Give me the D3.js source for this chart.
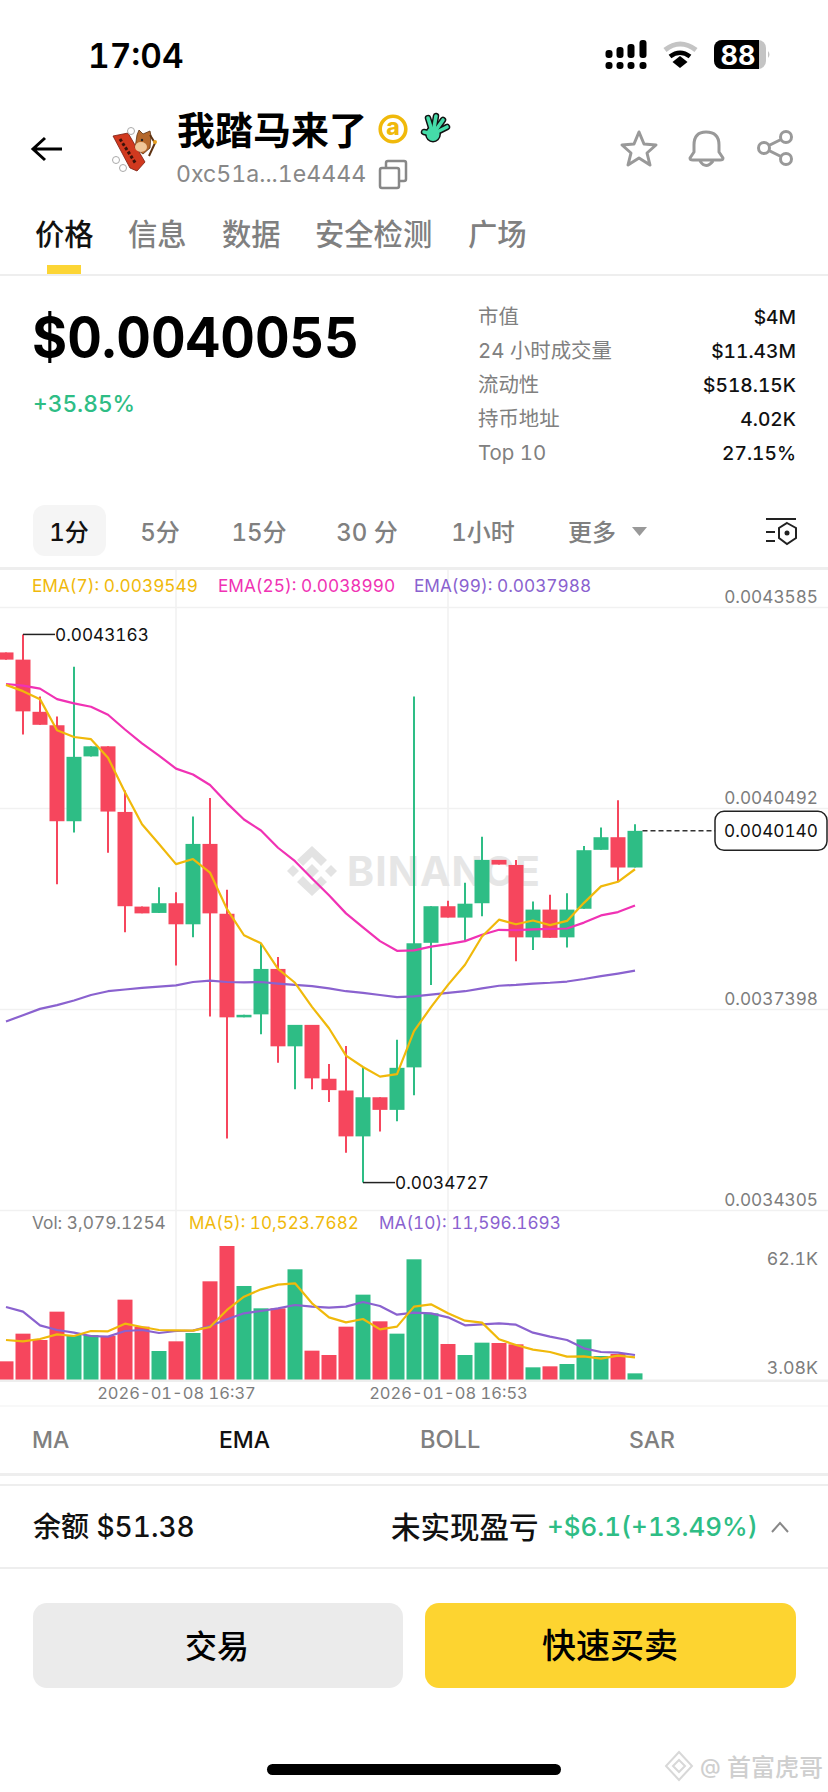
<!DOCTYPE html>
<html lang="zh">

<head>
    <meta charset="UTF-8">
    <title>我踏马来了 1分</title>
    <script src="https://d3js.org/d3.v7.min.js"></script>
</head>
<style>
    html, body {
        margin: 0;
        padding: 0;
        background: #fff;
    }
    svg {
        display: block;
    }
    text {
        font-family: Inter, "Noto Sans CJK SC", sans-serif;
        font-variant-numeric: tabular-nums;
    }
</style>

<body>
    <div id="chart"></div>
    <script>
        // one minute candles, 16:27 to 17:04
        const times = ['16:27', '16:28', '16:29', '16:30', '16:31', '16:32', '16:33', '16:34', '16:35', '16:36',
            '16:37', '16:38', '16:39', '16:40', '16:41', '16:42', '16:43', '16:44', '16:45', '16:46',
            '16:47', '16:48', '16:49', '16:50', '16:51', '16:52', '16:53', '16:54', '16:55', '16:56',
            '16:57', '16:58', '16:59', '17:00', '17:01', '17:02', '17:03', '17:04'];
        const opens = [0.0042886, 0.0042775, 0.0041972, 0.0041765, 0.0040288, 0.0041286, 0.0041441, 0.0040431, 0.0038974, 0.0038877,
            0.0039026, 0.0038702, 0.0039939, 0.0038864, 0.0037270, 0.0037316, 0.0038015, 0.0036824, 0.0037154, 0.0036325,
            0.0036144, 0.0035438, 0.0036040, 0.0035846, 0.0036500, 0.0038417, 0.0038980, 0.0038805, 0.0039026, 0.0039693,
            0.0039615, 0.0038501, 0.0038928, 0.0038501, 0.0038941, 0.0039848, 0.0040042, 0.0039576];
        const highs = [0.0042886, 0.0043163, 0.0042206, 0.0041901, 0.0042665, 0.0041441, 0.0041441, 0.0040761, 0.0038974, 0.0039272,
            0.0039194, 0.0040360, 0.0040645, 0.0039233, 0.0037309, 0.0038410, 0.0038197, 0.0037154, 0.0037154, 0.0036552,
            0.0036830, 0.0036506, 0.0036040, 0.0036927, 0.0042206, 0.0038980, 0.0039064, 0.0039343, 0.0040049, 0.0039693,
            0.0039693, 0.0039051, 0.0039155, 0.0039181, 0.0039906, 0.0040191, 0.0040612, 0.0040243];
        const lows = [0.0042775, 0.0041623, 0.0041772, 0.0039317, 0.0040114, 0.0041286, 0.0039803, 0.0038579, 0.0038870, 0.0038877,
            0.0038067, 0.0038501, 0.0037283, 0.0035405, 0.0037270, 0.0037011, 0.0036571, 0.0036163, 0.0036163, 0.0035969,
            0.0035185, 0.0034727, 0.0035515, 0.0035671, 0.0036072, 0.0037769, 0.0038805, 0.0038449, 0.0038825, 0.0039621,
            0.0038132, 0.0038307, 0.0038494, 0.0038346, 0.0038941, 0.0039848, 0.0039356, 0.0039576];
        const closes = [0.0042775, 0.0041979, 0.0041772, 0.0040288, 0.0041279, 0.0041441, 0.0040437, 0.0038980, 0.0038870, 0.0039026,
            0.0038702, 0.0039939, 0.0038870, 0.0037270, 0.0037309, 0.0038015, 0.0036824, 0.0037154, 0.0036331, 0.0036150,
            0.0035438, 0.0036040, 0.0035846, 0.0036493, 0.0038410, 0.0038980, 0.0038805, 0.0039019, 0.0039693, 0.0039621,
            0.0038501, 0.0038928, 0.0038494, 0.0038928, 0.0039842, 0.0040042, 0.0039576, 0.0040140];
        const ema7 = [0.0042387, 0.0042290, 0.0042167, 0.0041687, 0.0041584, 0.0041551, 0.0041266, 0.0040735, 0.0040243, 0.0039939,
            0.0039628, 0.0039706, 0.0039498, 0.0038935, 0.0038533, 0.0038410, 0.0038015, 0.0037802, 0.0037432, 0.0037102,
            0.0036681, 0.0036506, 0.0036357, 0.0036396, 0.0037057, 0.0037426, 0.0037769, 0.0038080, 0.0038514, 0.0038773,
            0.0038702, 0.0038760, 0.0038689, 0.0038754, 0.0039032, 0.0039285, 0.0039356, 0.0039549];
        const ema25 = [0.0042400, 0.0042374, 0.0042329, 0.0042167, 0.0042102, 0.0042050, 0.0041927, 0.0041700, 0.0041487, 0.0041299,
            0.0041098, 0.0041007, 0.0040845, 0.0040567, 0.0040314, 0.0040146, 0.0039880, 0.0039673, 0.0039408, 0.0039149,
            0.0038870, 0.0038656, 0.0038443, 0.0038294, 0.0038300, 0.0038359, 0.0038397, 0.0038443, 0.0038540, 0.0038617,
            0.0038611, 0.0038624, 0.0038630, 0.0038637, 0.0038728, 0.0038838, 0.0038890, 0.0038990];
        const ema99 = [0.0037206, 0.0037303, 0.0037400, 0.0037458, 0.0037529, 0.0037614, 0.0037672, 0.0037698, 0.0037724, 0.0037743,
            0.0037763, 0.0037814, 0.0037834, 0.0037814, 0.0037808, 0.0037814, 0.0037789, 0.0037769, 0.0037750, 0.0037717,
            0.0037672, 0.0037646, 0.0037614, 0.0037581, 0.0037594, 0.0037620, 0.0037646, 0.0037672, 0.0037717, 0.0037756,
            0.0037769, 0.0037789, 0.0037802, 0.0037821, 0.0037860, 0.0037905, 0.0037944, 0.0037988];
        const volumes = [8652, 21476, 18540, 31673, 20858, 20858, 20394, 37235, 24720, 13442,
            17922, 21785, 45732, 62100, 43569, 33218, 33218, 51294, 13596, 11588,
            24720, 39552, 27192, 21476, 55929, 30900, 16686, 11588, 17304, 17150,
            16532, 5871, 6335, 7416, 18849, 11124, 12051, 3079];
        const ma5 = [18540, 17922, 19004, 21167, 20394, 22712, 22557, 26111, 24566, 23175,
            23021, 22866, 24566, 32445, 38625, 42024, 44187, 44805, 35535, 29046,
            26729, 28274, 23484, 24720, 33990, 35072, 30900, 27501, 26574, 18849,
            16223, 14060, 12978, 10815, 10970, 9888, 11279, 10524];
        const ma10 = [33836, 31673, 25338, 23175, 21939, 20394, 20085, 22712, 23175, 21785,
            22712, 22866, 25029, 28119, 30900, 31982, 33218, 34763, 33990, 33527,
            33990, 36153, 34299, 30282, 31209, 30900, 29046, 25338, 25802, 26265,
            25647, 21939, 20085, 18540, 14678, 12978, 12669, 11596];

        const priceTicks = [0.0043585, 0.0040492, 0.0037398, 0.0034305];
        const volTicks = ['62.1K', '3.08K'];
        const timeTicks = ['16:37', '16:53'];
        const lastPrice = 0.0040140;

        const tabs = ['价格', '信息', '数据', '安全检测', '广场'];
        const tabX = [35, 128, 222, 315, 468];
        const statNames = ['市值', '24 小时成交量', '流动性', '持币地址', 'Top 10'];
        const statValues = ['$4M', '$11.43M', '$518.15K', '4.02K', '27.15%'];
        const frames = ['1分', '5分', '15分', '30 分', '1小时', '更多'];
        const frameX = [69, 160, 259, 367, 483, 592];
        const indicators = ['MA', 'EMA', 'BOLL', 'SAR'];
        const indicatorX = [32, 219, 420, 629];

        const red = '#f6465d';
        const green = '#2ebd85';
        const yellow = '#f0b90b';
        const pink = '#f032b4';
        const purple = '#8a62cf';
        const grey = '#7d7d7d';
        const rule = '#eeeeee';

        const svg = d3.select('#chart')
            .append('svg')
            .attr('width', 828)
            .attr('height', 1792);

        function label(x, y, str, size, fill, weight, anchor) {
            return svg.append('text')
                .attr('x', x)
                .attr('y', y)
                .attr('dy', '0.36em')
                .attr('font-size', size)
                .attr('font-weight', weight || 400)
                .attr('text-anchor', anchor || 'start')
                .attr('fill', fill)
                .text(str);
        }

        function hline(y, h, color) {
            svg.append('rect').attr('x', 0).attr('y', y).attr('width', 828).attr('height', h).attr('fill', color || rule);
        }

        // ---------- status bar ----------
        label(88, 56, '17:04', 33.5, '#000', 600);
        const sigX = [609, 620, 631, 643];
        const sigTop = [50, 47, 44, 40];
        sigX.forEach((x, i) => {
            svg.append('rect').attr('x', x - 3.5).attr('y', 62).attr('width', 7).attr('height', 7).attr('rx', 3).attr('fill', '#000');
            svg.append('rect').attr('x', x - 3.5).attr('y', sigTop[i]).attr('width', 7).attr('height', 58 - sigTop[i]).attr('rx', 3).attr('fill', '#000');
        });
        svg.append('path').attr('d', 'M665 50 Q680 38 696 50').attr('fill', 'none').attr('stroke', '#c4c4c4').attr('stroke-width', 5);
        svg.append('path').attr('d', 'M670 56.5 Q680 49 690 56.5').attr('fill', 'none').attr('stroke', '#000').attr('stroke-width', 4.5);
        svg.append('path').attr('d', 'M672.5 62 L680 56 L687.5 62 L680 68 Z').attr('fill', '#000');
        svg.append('rect').attr('x', 714).attr('y', 40).attr('width', 52).attr('height', 29).attr('rx', 8).attr('fill', '#c4c4c4');
        svg.append('path').attr('d', 'M722 40 H759 V69 H722 A8 8 0 0 1 714 61 V48 A8 8 0 0 1 722 40 Z').attr('fill', '#000');
        svg.append('path').attr('d', 'M768 51 Q771 54.5 768 58 Z').attr('fill', '#c4c4c4');
        label(738, 55, '88', 27, '#fff', 700, 'middle');

        // ---------- header ----------
        svg.append('path').attr('d', 'M62 149 H34 M45 138 L33 149 L45 160')
            .attr('fill', 'none').attr('stroke', '#000').attr('stroke-width', 3);

        // avatar, small sketch of the horse with the red banner
        const avatar = svg.append('g').attr('transform', 'translate(100,110)');
        avatar.append('path').attr('d', 'M13 26 L28 23 L45 52 L37 61 L30 58 Z').attr('fill', '#d1391f').attr('stroke', '#7a1d10').attr('stroke-width', 0.8);
        avatar.append('path').attr('d', 'M20 29 L36 54').attr('stroke', '#3a120a').attr('stroke-width', 3).attr('stroke-dasharray', '3,2');
        avatar.append('path').attr('d', 'M37 25 L39 20 L43 24 L50 21 L51 26 L50 38 L43 44 L35 38 Z').attr('fill', '#b5682c').attr('stroke', '#5e3212').attr('stroke-width', 0.8);
        avatar.append('ellipse').attr('cx', 41).attr('cy', 37).attr('rx', 6).attr('ry', 5).attr('fill', '#f0c79a');
        avatar.append('circle').attr('cx', 42).attr('cy', 30).attr('r', 1.2).attr('fill', '#222');
        avatar.append('path').attr('d', 'M50 25 L55 33 L49 46').attr('fill', 'none').attr('stroke', '#5e3212').attr('stroke-width', 2);
        avatar.append('circle').attr('cx', 55).attr('cy', 32).attr('r', 2).attr('fill', '#e8a020');
        [[31, 21], [16, 50], [23, 58]].forEach(d => {
            avatar.append('circle').attr('cx', d[0]).attr('cy', d[1]).attr('r', 3.5).attr('fill', '#fff').attr('stroke', '#aaa').attr('stroke-width', 1);
        });

        label(177, 130, '我踏马来了', 38, '#000', 700);
        svg.append('circle').attr('cx', 393).attr('cy', 129).attr('r', 12.8).attr('fill', 'none').attr('stroke', yellow).attr('stroke-width', 3.6);
        label(393, 127, 'a', 23, yellow, 800, 'middle');
        // green hand, fingers drawn twice for the dark outline
        const fingers = [[424, 132], [428, 118], [436, 116], [443, 120], [447, 127]];
        const hand = svg.append('g').attr('stroke-linecap', 'round').attr('fill', 'none');
        fingers.forEach(d => hand.append('line').attr('x1', 433).attr('y1', 134).attr('x2', d[0]).attr('y2', d[1]).attr('stroke', '#111').attr('stroke-width', 6.5));
        hand.append('ellipse').attr('cx', 433).attr('cy', 134).attr('rx', 8).attr('ry', 8.5).attr('fill', '#111');
        fingers.forEach(d => hand.append('line').attr('x1', 433).attr('y1', 134).attr('x2', d[0]).attr('y2', d[1]).attr('stroke', '#45dca9').attr('stroke-width', 3.6));
        hand.append('ellipse').attr('cx', 433).attr('cy', 134).attr('rx', 6.5).attr('ry', 7).attr('fill', '#45dca9');

        label(176, 174, '0xc51a...1e4444', 23.1, '#888', 400);
        svg.append('path').attr('d', 'M386 167 V163 Q386 161 388 161 H404 Q406 161 406 163 V179 Q406 181 404 181 H400')
            .attr('fill', 'none').attr('stroke', '#888').attr('stroke-width', 2.5);
        svg.append('rect').attr('x', 380).attr('y', 168).attr('width', 19).attr('height', 20).attr('rx', 2)
            .attr('fill', 'none').attr('stroke', '#888').attr('stroke-width', 2.5);

        const iconStroke = '#999';
        svg.append('path').attr('d', 'M639 132 L644 144 L656 145 L647 153 L650 165 L639 158 L628 165 L631 153 L622 145 L634 144 Z')
            .attr('fill', 'none').attr('stroke', iconStroke).attr('stroke-width', 3).attr('stroke-linejoin', 'round');
        svg.append('path').attr('d', 'M694 152 V145 Q694 132 706 132 Q719 132 719 145 V152 L723 158 Q723 160 720 160 H693 Q690 160 690 158 Z M700 161 Q706 170 713 161')
            .attr('fill', 'none').attr('stroke', iconStroke).attr('stroke-width', 3).attr('stroke-linejoin', 'round');
        svg.append('path').attr('d', 'M786 137 L764 148 L786 159').attr('fill', 'none').attr('stroke', iconStroke).attr('stroke-width', 3);
        [[786, 137], [764, 148], [786, 159]].forEach(d => {
            svg.append('circle').attr('cx', d[0]).attr('cy', d[1]).attr('r', 5.5).attr('fill', '#fff').attr('stroke', iconStroke).attr('stroke-width', 3);
        });

        tabs.forEach((t, i) => label(tabX[i], 234, t, 29.3, i === 0 ? '#111' : '#808080', 500));
        svg.append('rect').attr('x', 47).attr('y', 265).attr('width', 34).attr('height', 9).attr('fill', '#fcd535');
        hline(274, 2);

        // ---------- price block ----------
        label(32, 337, '$0.0040055', 55, '#000', 700)
            .attr('textLength', 327)
            .attr('lengthAdjust', 'spacingAndGlyphs');
        label(33, 404, '+35.85%', 22.7, green, 500);
        statNames.forEach((t, i) => {
            const y = 317 + i * 34;
            label(478, y, t, 20.4, '#808080', 400);
            label(796, y, statValues[i], 19.2, '#111', 500, 'end');
        });

        // ---------- time frame row ----------
        svg.append('rect').attr('x', 33).attr('y', 505).attr('width', 73).attr('height', 51).attr('rx', 12).attr('fill', '#f5f5f5');
        frames.forEach((t, i) => label(frameX[i], 532, t, 24, i === 0 ? '#111' : '#808080', 500, 'middle'));
        svg.append('path').attr('d', 'M632 527 H647 L639.5 536 Z').attr('fill', '#999');
        svg.append('path').attr('d', 'M766 519 H796 M766 532 H775 M766 541 H775')
            .attr('stroke', '#222').attr('stroke-width', 2).attr('fill', 'none');
        svg.append('path').attr('d', 'M787 523 L796 528 V538 L787 544 L779 538 V528 Z')
            .attr('stroke', '#222').attr('stroke-width', 2).attr('fill', '#fff');
        svg.append('circle').attr('cx', 787).attr('cy', 533).attr('r', 2.5).attr('fill', '#222');
        hline(567, 3);

        // ---------- scales ----------
        const x = d3.scalePoint().domain(times).range([6, 635]);
        const y = d3.scaleLinear().domain([0.0034305, 0.0043585]).range([1210, 607]);
        const yVol = d3.scaleLinear().domain([0, 62100]).range([1380, 1246]);
        const candleW = 15;

        // grid, drawn from the axes
        const yAxis = d3.axisRight(y).tickValues(priceTicks).tickSize(828).tickPadding(0).tickFormat(d3.format('.7f'));
        const gy = svg.append('g').call(yAxis);
        gy.select('.domain').remove();
        gy.selectAll('line').attr('stroke', '#f1f1f1').attr('stroke-width', 1.5);
        gy.selectAll('text')
            .attr('x', 818).attr('dy', '-0.27em').attr('y', 0)
            .attr('text-anchor', 'end').attr('font-size', 17.2).attr('fill', grey);
        gy.attr('font-family', null);

        const xAxis = d3.axisBottom(x).tickValues(timeTicks).tickSize(0).tickFormat(d => '2026-01-08 ' + d);
        const gx = svg.append('g').attr('transform', 'translate(0,1393)').call(xAxis);
        gx.select('.domain').remove();
        gx.attr('font-family', null);
        gx.selectAll('text').attr('y', 0).attr('dy', '0.36em').attr('font-size', 16.5).attr('fill', grey);

        svg.selectAll('.vgrid')
            .data(timeTicks)
            .enter()
            .append('line')
            .attr('class', 'vgrid')
            .attr('x1', d => x(d))
            .attr('x2', d => x(d))
            .attr('y1', 570)
            .attr('y2', 1380)
            .attr('stroke', '#f1f1f1')
            .attr('stroke-width', 1.5);

        // ---------- watermark ----------
        const logo = svg.append('g').attr('transform', 'translate(312,871)').attr('fill', '#e3e3e3');
        logo.append('path').attr('d', 'M0 -25 L15 -11 L9 -5 L0 -14 L-9 -5 L-15 -11 Z');
        logo.append('path').attr('d', 'M0 25 L15 11 L9 5 L0 14 L-9 5 L-15 11 Z');
        logo.append('path').attr('d', 'M-25 0 L-19 -6 L-13 0 L-19 6 Z');
        logo.append('path').attr('d', 'M25 0 L19 -6 L13 0 L19 6 Z');
        logo.append('path').attr('d', 'M0 -7 L7 0 L0 7 L-7 0 Z');
        label(347, 871, 'BINANCE', 41, '#e6e6e6', 700).attr('textLength', 193);

        // ---------- legend ----------
        label(32, 586, 'EMA(7): 0.0039549', 17.25, yellow, 400);
        label(218, 586, 'EMA(25): 0.0038990', 17.25, pink, 400);
        label(414, 586, 'EMA(99): 0.0037988', 17.25, purple, 400);

        // ---------- candles ----------
        const candleColor = i => closes[i] >= opens[i] ? green : red;
        const idx = d3.range(times.length);

        svg.selectAll('.wick')
            .data(idx)
            .enter()
            .append('line')
            .attr('class', 'wick')
            .attr('x1', i => x(times[i]))
            .attr('x2', i => x(times[i]))
            .attr('y1', i => y(highs[i]))
            .attr('y2', i => y(lows[i]))
            .attr('stroke', candleColor)
            .attr('stroke-width', 2);

        svg.selectAll('.body')
            .data(idx)
            .enter()
            .append('rect')
            .attr('class', 'body')
            .attr('x', i => x(times[i]) - candleW / 2)
            .attr('y', i => y(Math.max(opens[i], closes[i])))
            .attr('width', candleW)
            .attr('height', i => Math.max(1, Math.abs(y(opens[i]) - y(closes[i]))))
            .attr('fill', candleColor);

        function drawLine(values, color, scale, width) {
            const line = d3.line()
                .x((d, i) => x(times[i]))
                .y(d => scale(d));
            svg.append('path')
                .datum(values)
                .attr('d', line)
                .attr('fill', 'none')
                .attr('stroke', color)
                .attr('stroke-width', width)
                .attr('stroke-linejoin', 'round');
        }
        drawLine(ema99, purple, y, 2.2);
        drawLine(ema25, pink, y, 2.2);
        drawLine(ema7, yellow, y, 2.2);

        // high / low markers
        const hi = d3.max(highs);
        const lo = d3.min(lows);
        const hiX = x(times[highs.indexOf(hi)]);
        const loX = x(times[lows.indexOf(lo)]);
        svg.append('line').attr('x1', hiX).attr('x2', hiX + 32).attr('y1', y(hi)).attr('y2', y(hi)).attr('stroke', '#222').attr('stroke-width', 1.5);
        label(hiX + 32, y(hi), d3.format('.7f')(hi), 17.2, '#111', 400);
        svg.append('line').attr('x1', loX).attr('x2', loX + 32).attr('y1', y(lo)).attr('y2', y(lo)).attr('stroke', '#222').attr('stroke-width', 1.5);
        label(loX + 32, y(lo), d3.format('.7f')(lo), 17.2, '#111', 400);

        // last price tag
        svg.append('line')
            .attr('x1', x(times[times.length - 1]) + candleW / 2)
            .attr('x2', 715)
            .attr('y1', y(lastPrice))
            .attr('y2', y(lastPrice))
            .attr('stroke', '#333')
            .attr('stroke-width', 1.5)
            .attr('stroke-dasharray', '5,3');
        svg.append('rect').attr('x', 715).attr('y', y(lastPrice) - 19.5).attr('width', 112).attr('height', 39).attr('rx', 9)
            .attr('fill', '#fff').attr('stroke', '#222').attr('stroke-width', 1.5);
        label(771, y(lastPrice), d3.format('.7f')(lastPrice), 17.2, '#111', 400, 'middle');

        // ---------- volume pane ----------
        label(32, 1223, 'Vol: 3,079.1254', 17.3, grey, 400);
        label(189, 1223, 'MA(5): 10,523.7682', 17.1, yellow, 400);
        label(379, 1223, 'MA(10): 11,596.1693', 17.2, purple, 400);
        label(818, 1259, volTicks[0], 17.8, grey, 400, 'end');
        label(818, 1368, volTicks[1], 17.8, grey, 400, 'end');

        svg.selectAll('.vol')
            .data(idx)
            .enter()
            .append('rect')
            .attr('class', 'vol')
            .attr('x', i => x(times[i]) - candleW / 2)
            .attr('y', i => yVol(volumes[i]))
            .attr('width', candleW)
            .attr('height', i => yVol(0) - yVol(volumes[i]))
            .attr('fill', candleColor);
        drawLine(ma10, purple, yVol, 2.2);
        drawLine(ma5, yellow, yVol, 2.2);
        hline(1379.5, 2.5);
        hline(1405.5, 1, '#f2f2f2');

        // ---------- indicator row ----------
        indicators.forEach((t, i) => label(indicatorX[i], 1440, t, i === 2 ? 23.6 : 23, t === 'EMA' ? '#111' : '#808080', 500));
        hline(1473, 3);
        hline(1484, 2);

        // ---------- balance row ----------
        label(33, 1527, '余额 $51.38', 28, '#111', 500);
        label(391, 1527, '未实现盈亏', 29.5, '#111', 500);
        label(547, 1527, '+$6.1(+13.49%)', 25.9, green, 500);
        svg.append('path').attr('d', 'M772 1532 L780 1523 L788 1532').attr('fill', 'none').attr('stroke', '#888').attr('stroke-width', 2);
        hline(1567, 2);

        // ---------- buttons ----------
        svg.append('rect').attr('x', 33).attr('y', 1603).attr('width', 370).attr('height', 85).attr('rx', 14).attr('fill', '#ebebeb');
        svg.append('rect').attr('x', 425).attr('y', 1603).attr('width', 371).attr('height', 85).attr('rx', 14).attr('fill', '#fdd430');
        label(217, 1646, '交易', 32, '#000', 500, 'middle');
        label(610, 1646, '快速买卖', 34, '#000', 500, 'middle');

        // ---------- home bar and site mark ----------
        svg.append('rect').attr('x', 267).attr('y', 1764).attr('width', 294).attr('height', 11).attr('rx', 5.5).attr('fill', '#000');
        const mark = svg.append('g').attr('transform', 'translate(679,1766)').attr('fill', 'none').attr('stroke', '#d8d8d8').attr('stroke-width', 2);
        mark.append('path').attr('d', 'M0 -14 L13 0 L0 14 L-13 0 Z');
        mark.append('path').attr('d', 'M0 -6 L6 0 L0 6 L-6 0 Z');
        label(700, 1766, '@', 21, '#cfcfcf', 500);
        label(727, 1767, '首富虎哥', 24, '#cfcfcf', 500);
    </script>
</body>

</html>
